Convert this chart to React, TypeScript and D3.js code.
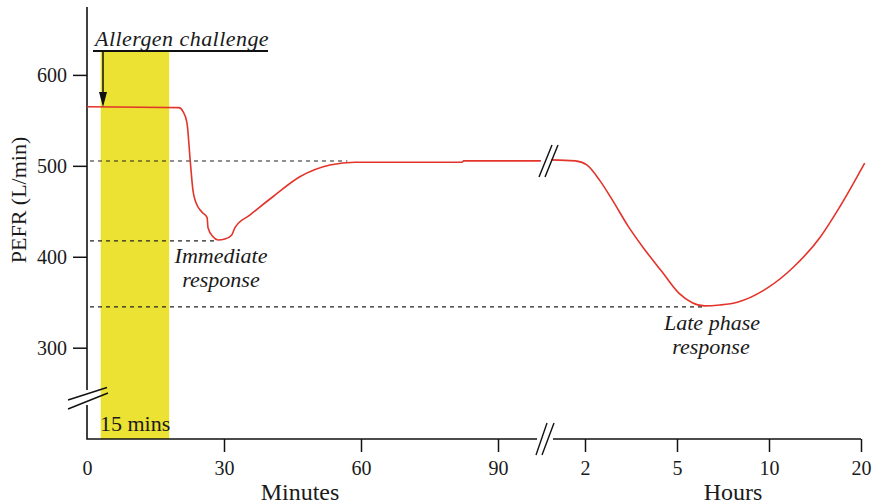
import React, { useEffect, useRef } from 'react';
import * as d3 from 'd3';

// PEFR after allergen challenge: minutes part, then hours part after the axis break
const minuteTimes = [0, 20.1, 21.0, 21.9, 22.6, 23.2, 23.9, 25.2, 26.3, 26.5, 27.6, 28.7, 30.2, 31.7, 32.4, 35.7, 40.7, 46.6, 53.2, 58.7, 82.1, 82.5, 99.4];
const minutePefr = [565, 564, 560, 547, 506, 473, 459, 449, 443, 432, 422, 418.5, 419.5, 424, 432, 446, 466, 488, 501, 504, 504, 505.5, 505.5];

const hourTimes = [0.9, 1.68, 2.06, 2.48, 2.9, 3.4, 3.9, 4.5, 5.1, 5.83, 6.5, 7.33, 8.28, 9.94, 12.7, 15.6, 17.7, 20.4];
const hourPefr = [506.5, 505.5, 501, 484, 462, 434, 410, 384, 360, 349.5, 346, 347, 350, 366, 389, 422, 455, 503];

const minuteTicks = [0, 30, 60, 90];
const hourTicks = [2, 5, 10, 20];
const pefrTicks = [300, 400, 500, 600];

// dashed reference levels: baseline, immediate trough, late trough
const refLevels = [505.3, 417.5, 344.8];
const refEndMinutes = [57, 28, null];
const refEndHours = [null, null, 6.5];

// allergen exposure window (minutes)
const challengeStart = 3;
const challengeEnd = 18;

const FONT = "'Liberation Serif', 'Times New Roman', serif";

function App() {
  const svgRef = useRef(null);

  useEffect(() => {
    document.body.style.margin = '0';
    const W = 873, H = 504;
    const left = 87, bottom = 439, top = 7;
    const svg = d3.select(svgRef.current);
    svg.selectAll('*').remove();

    const xMin = d3.scaleLinear().domain([0, 90]).range([87, 498]);
    const xHour = d3.scaleLinear().domain(hourTicks).range([585, 677, 769, 861]);
    const y = d3.scaleLinear().domain([300, 600]).range([347.7, 74.9]);

    // yellow challenge band
    svg.append('rect')
      .attr('x', xMin(challengeStart))
      .attr('y', 51)
      .attr('width', xMin(challengeEnd) - xMin(challengeStart))
      .attr('height', bottom - 51)
      .attr('fill', '#ebe233');

    // dashed reference lines
    refLevels.forEach((v, i) => {
      const xEnd = refEndMinutes[i] != null ? xMin(refEndMinutes[i]) : xHour(refEndHours[i]);
      svg.append('line')
        .attr('x1', left + 3).attr('x2', xEnd)
        .attr('y1', y(v)).attr('y2', y(v))
        .attr('stroke', '#222')
        .attr('stroke-width', 1.2)
        .attr('stroke-dasharray', '4,4');
    });

    // axes
    const yAxis = svg.append('g')
      .attr('transform', `translate(${left},0)`)
      .call(d3.axisLeft(y).tickValues(pefrTicks).tickSize(14).tickPadding(6).tickSizeOuter(0));
    const xAxisMin = svg.append('g')
      .attr('transform', `translate(0,${bottom})`)
      .call(d3.axisBottom(xMin).tickValues(minuteTicks).tickSize(13).tickPadding(9).tickSizeOuter(0));
    const xAxisHour = svg.append('g')
      .attr('transform', `translate(0,${bottom})`)
      .call(d3.axisBottom(xHour).tickValues(hourTicks).tickSize(13).tickPadding(9).tickSizeOuter(0));

    [yAxis, xAxisMin, xAxisHour].forEach(g => {
      g.select('.domain').remove();
      g.selectAll('line').attr('stroke', '#111').attr('stroke-width', 1.5);
      g.selectAll('text')
        .attr('font-family', FONT)
        .attr('font-size', 20)
        .attr('fill', '#1a1a1a');
    });
    xAxisMin.selectAll('.tick').filter(d => d === 0).select('line').remove();

    // axis lines with breaks
    const axisPaths = [
      [[left, top], [left, 390]],
      [[left, 405], [left, bottom], [537, bottom]],
      [[553, bottom], [861, bottom]],
    ];
    axisPaths.forEach(p => {
      svg.append('path')
        .attr('d', d3.line()(p))
        .attr('fill', 'none')
        .attr('stroke', '#111')
        .attr('stroke-width', 1.6);
    });

    const slash = (pts) => svg.append('path')
      .attr('d', d3.line()(pts))
      .attr('stroke', '#111')
      .attr('stroke-width', 1.4)
      .attr('fill', 'none');
    // y-axis break
    slash([[68, 400], [107, 387.5]]);
    slash([[68, 409], [108, 393]]);
    // x-axis break
    slash([[536, 455], [547, 423]]);
    slash([[542, 455], [554, 423]]);

    // PEFR curve
    const line = d3.line().curve(d3.curveMonotoneX);
    const minPts = minuteTimes.map((t, i) => [xMin(t), y(minutePefr[i])]);
    const hourPts = hourTimes.map((t, i) => [xHour(t), y(hourPefr[i])]);
    [minPts, hourPts].forEach(pts => {
      svg.append('path')
        .attr('d', line(pts))
        .attr('fill', 'none')
        .attr('stroke', '#e3342b')
        .attr('stroke-width', 1.6);
    });
    // curve break
    svg.append('rect').attr('x', 541).attr('y', 150).attr('width', 10).attr('height', 20).attr('fill', 'white');
    slash([[539, 177], [552, 145]]);
    slash([[545, 177], [558, 145]]);

    // annotations
    const txt = (x, yy, s, opts = {}) => svg.append('text')
      .attr('x', x).attr('y', yy)
      .attr('font-family', FONT)
      .attr('font-size', opts.size || 22)
      .attr('font-style', opts.italic ? 'italic' : 'normal')
      .attr('letter-spacing', opts.spacing || 0)
      .attr('text-anchor', opts.anchor || 'start')
      .attr('fill', '#1a1a1a')
      .text(s);

    txt(95, 46, 'Allergen challenge', { italic: true, spacing: 0.45 });
    svg.append('line')
      .attr('x1', 93).attr('x2', 268).attr('y1', 51).attr('y2', 51)
      .attr('stroke', '#111').attr('stroke-width', 2);
    // arrow down to the curve
    svg.append('line')
      .attr('x1', 103).attr('x2', 103).attr('y1', 51).attr('y2', 95)
      .attr('stroke', '#111').attr('stroke-width', 1.5);
    svg.append('path')
      .attr('d', 'M99,92 L107,92 L103,107 Z')
      .attr('fill', '#111');

    txt(100, 431, '15 mins', { size: 22 });
    txt(221, 263, 'Immediate', { italic: true, anchor: 'middle' });
    txt(221, 287, 'response', { italic: true, anchor: 'middle' });
    txt(712, 330, 'Late phase', { italic: true, anchor: 'middle' });
    txt(711, 354, 'response', { italic: true, anchor: 'middle' });

    txt(300, 500, 'Minutes', { size: 24, anchor: 'middle' });
    txt(733, 500, 'Hours', { size: 24, anchor: 'middle' });
    svg.append('text')
      .attr('transform', 'translate(26,200) rotate(-90)')
      .attr('text-anchor', 'middle')
      .attr('font-family', FONT)
      .attr('font-size', 22)
      .attr('fill', '#1a1a1a')
      .text('PEFR (L/min)');

    svg.attr('width', W).attr('height', H);
  }, []);

  return (
    <div>
      <svg ref={svgRef} width={873} height={504} style={{ display: 'block', background: 'white' }}></svg>
    </div>
  );
}

export default App;
